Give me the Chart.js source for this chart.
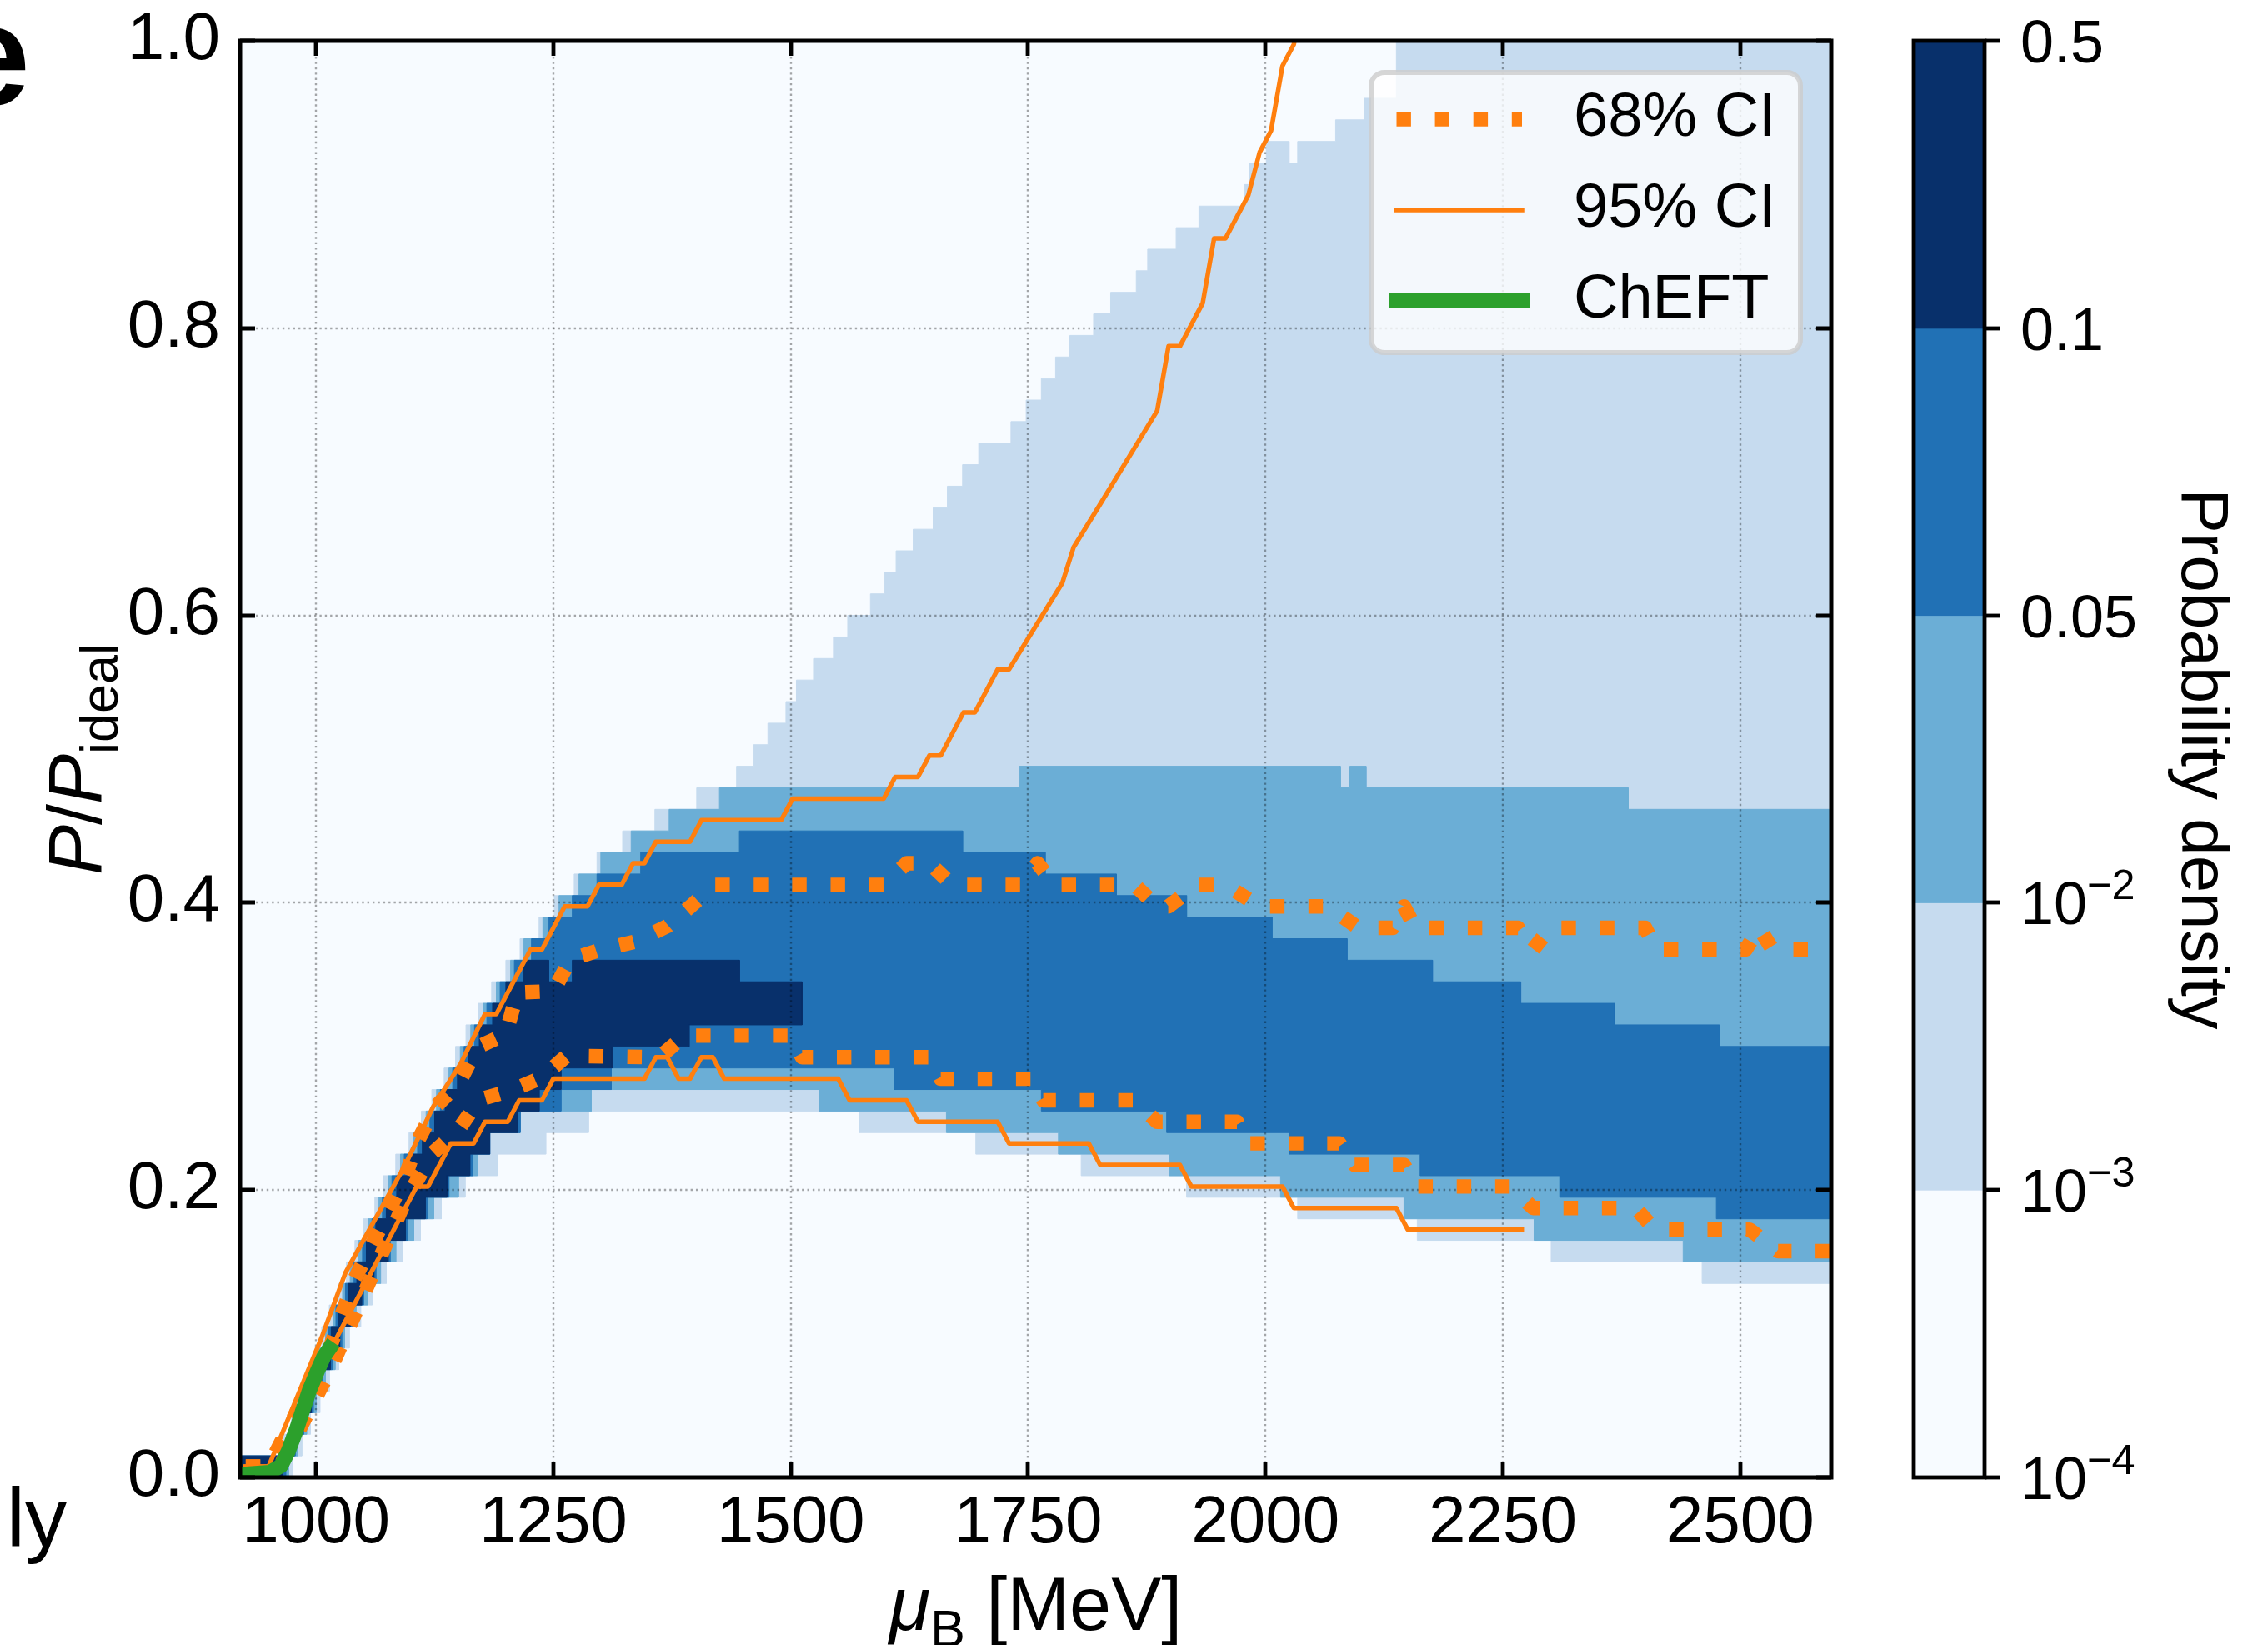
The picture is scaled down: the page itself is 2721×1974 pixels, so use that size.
<!DOCTYPE html>
<html>
<head>
<meta charset="utf-8">
<title>P/P_ideal vs baryon chemical potential</title>
<script src="https://cdn.jsdelivr.net/npm/chart.js@4.4.1/dist/chart.umd.min.js"></script>
<style>
  html, body { margin: 0; padding: 0; background: #ffffff; }
  canvas { display: block; }
</style>
</head>
<body>
<canvas id="chart" width="2721" height="1974"></canvas>
<script>
// ---------- axes ----------
const muRange = [920, 2596];      // mu_B [MeV]
const pRange = [0, 1];            // P / P_ideal
const muTickStep = 250;
const pTickStep = 0.2;

// ---------- colour bar: probability-density levels (bottom -> top) ----------
const densityTicks = ['10^-4', '10^-3', '10^-2', '0.05', '0.1', '0.5'];
const densityColors = ['#f7fbff', '#c6dbef', '#6baed6', '#2171b5', '#08306b'];

// ---------- density regions, step boundaries: [mu_B from, P/P_ideal] ----------
// level 1: density > 1e-3
const level1Top = [[920,0.015],[966,0.03],[974,0.045],[981,0.06],[990,0.075],[1000,0.09],[1006,0.105],[1014,0.12],[1024,0.135],[1032,0.15],[1041,0.165],[1050,0.18],[1062,0.195],[1071,0.21],[1084,0.225],[1098,0.24],[1111,0.255],[1122,0.27],[1135,0.285],[1147,0.3],[1158,0.315],[1171,0.33],[1185,0.345],[1200,0.36],[1215,0.375],[1235,0.39],[1251,0.405],[1272,0.42],[1296,0.435],[1323,0.45],[1357,0.465],[1401,0.48],[1443,0.495],[1461,0.51],[1476,0.525],[1495,0.54],[1506,0.555],[1524,0.57],[1545,0.585],[1560,0.6],[1584,0.615],[1599,0.63],[1611,0.645],[1629,0.66],[1650,0.675],[1665,0.69],[1681,0.705],[1698,0.72],[1732,0.735],[1748,0.75],[1764,0.765],[1779,0.78],[1794,0.795],[1819,0.81],[1837,0.825],[1864,0.84],[1876,0.855],[1906,0.87],[1930,0.885],[1978,0.9],[1983,0.915],[2001,0.93],[2025,0.915],[2034,0.93],[2074,0.945],[2104,0.96],[2138,1.02]];
const level1Bottom = [[920,0],[975,0.015],[985,0.03],[994,0.045],[1004,0.06],[1014,0.075],[1024,0.09],[1035,0.105],[1047,0.12],[1059,0.135],[1074,0.15],[1091,0.165],[1110,0.18],[1132,0.195],[1157,0.21],[1191,0.225],[1242,0.24],[1287,0.255],[1572,0.24],[1695,0.225],[1806,0.21],[1917,0.195],[2034,0.18],[2160,0.165],[2301,0.15],[2460,0.135]];
// level 2: density > 1e-2
const level2Top = [[920,0.015],[969,0.03],[977,0.045],[985,0.06],[994,0.075],[1003,0.09],[1010,0.105],[1018,0.12],[1028,0.135],[1036,0.15],[1045,0.165],[1055,0.18],[1066,0.195],[1076,0.21],[1089,0.225],[1103,0.24],[1116,0.255],[1127,0.27],[1140,0.285],[1152,0.3],[1163,0.315],[1176,0.33],[1190,0.345],[1205,0.36],[1219,0.375],[1239,0.39],[1256,0.405],[1277,0.42],[1300,0.435],[1332,0.45],[1372,0.465],[1425,0.48],[1741,0.495],[2079,0.48],[2089,0.495],[2106,0.48],[2382,0.465]];
const level2Bottom = [[920,0],[971,0.015],[981,0.03],[990,0.045],[1000,0.06],[1010,0.075],[1020,0.09],[1030,0.105],[1042,0.12],[1054,0.135],[1068,0.15],[1084,0.165],[1103,0.18],[1124,0.195],[1150,0.21],[1170,0.225],[1183,0.24],[1215,0.255],[1290,0.27],[1530,0.255],[1664,0.24],[1782,0.225],[1899,0.21],[2016,0.195],[2146,0.18],[2283,0.165],[2440,0.15]];
// level 3: density > 0.05
const level3Top = [[920,0.015],[972,0.03],[980,0.045],[988,0.06],[997,0.075],[1006,0.09],[1013,0.105],[1021,0.12],[1031,0.135],[1040,0.15],[1049,0.165],[1059,0.18],[1070,0.195],[1080,0.21],[1093,0.225],[1107,0.24],[1120,0.255],[1131,0.27],[1144,0.285],[1156,0.3],[1167,0.315],[1180,0.33],[1194,0.345],[1209,0.36],[1227,0.375],[1245,0.39],[1270,0.405],[1296,0.42],[1342,0.435],[1446,0.45],[1681,0.435],[1768,0.42],[1843,0.405],[1917,0.39],[2007,0.375],[2086,0.36],[2176,0.345],[2269,0.33],[2368,0.315],[2478,0.3]];
const level3Bottom = [[920,0],[968,0.015],[978,0.03],[987,0.045],[997,0.06],[1007,0.075],[1017,0.09],[1027,0.105],[1038,0.12],[1050,0.135],[1063,0.15],[1078,0.165],[1096,0.18],[1117,0.195],[1140,0.21],[1165,0.225],[1183,0.24],[1215,0.255],[1258,0.27],[1311,0.285],[1609,0.27],[1764,0.255],[1896,0.24],[2025,0.225],[2163,0.21],[2310,0.195],[2475,0.18]];
// level 4: density > 0.1 (ends at 1512 MeV)
const level4End = 1512;
const level4Top = [[920,0.015],[975,0.03],[983,0.045],[991,0.06],[1000,0.075],[1009,0.09],[1016,0.105],[1024,0.12],[1034,0.135],[1043,0.15],[1053,0.165],[1063,0.18],[1074,0.195],[1085,0.21],[1098,0.225],[1112,0.24],[1125,0.255],[1136,0.27],[1149,0.285],[1161,0.3],[1172,0.315],[1186,0.33],[1200,0.345],[1219,0.36],[1245,0.345],[1270,0.36],[1446,0.345]];
const level4Bottom = [[920,0],[964,0.015],[976,0.03],[985,0.045],[995,0.06],[1005,0.075],[1015,0.09],[1025,0.105],[1036,0.12],[1048,0.135],[1061,0.15],[1076,0.165],[1094,0.18],[1115,0.195],[1138,0.21],[1162,0.225],[1183,0.24],[1212,0.255],[1235,0.27],[1258,0.285],[1312,0.3],[1393,0.315]];

// ---------- credible-interval bounds and ChEFT band: [mu_B, P/P_ideal] ----------
const ci68Upper = [[926,0.0075],[950,0.0075],[1015,0.091],[1028,0.115],[1041,0.1385],[1059,0.162],[1077,0.186],[1094,0.2095],[1107,0.234],[1126,0.258],[1151,0.275],[1170,0.2995],[1200,0.3085],[1212,0.3375],[1250,0.3385],[1268,0.3606],[1301,0.3675],[1337,0.373],[1370,0.3837],[1395,0.3977],[1420,0.4125],[1598,0.4125],[1622,0.4275],[1646,0.4275],[1670,0.4125],[1742,0.4125],[1760,0.4275],[1778,0.4125],[1862,0.4125],[1886,0.3975],[1898,0.3975],[1928,0.4125],[1958,0.4125],[1994,0.3975],[2066,0.3975],[2098,0.3825],[2134,0.3825],[2146,0.3975],[2158,0.3825],[2266,0.3825],[2282,0.3675],[2300,0.3825],[2400,0.3825],[2412,0.3675],[2506,0.3675],[2520,0.3825],[2534,0.3675],[2596,0.3675]];
const ci68Lower = [[926,0.0075],[962,0.0075],[1015,0.075],[1094,0.1925],[1123,0.2258],[1150,0.242],[1172,0.263],[1204,0.269],[1237,0.278],[1264,0.2934],[1362,0.2925],[1388,0.3075],[1500,0.3075],[1512,0.2925],[1646,0.2925],[1658,0.2775],[1754,0.2775],[1766,0.2625],[1862,0.2625],[1886,0.2475],[1970,0.2475],[1982,0.2325],[2078,0.2325],[2094,0.2175],[2146,0.2175],[2158,0.2025],[2258,0.2025],[2282,0.1875],[2390,0.1875],[2410,0.1725],[2510,0.1725],[2540,0.1575],[2596,0.1575]];
const ci95Upper = [[926,0.0075],[950,0.0075],[1006,0.0975],[1031,0.1425],[1094,0.2175],[1123,0.2575],[1152,0.2875],[1178,0.3225],[1190,0.3225],[1226,0.3675],[1238,0.3675],[1262,0.3975],[1286,0.3975],[1298,0.4125],[1322,0.4125],[1334,0.4275],[1346,0.4275],[1358,0.4425],[1394,0.4425],[1406,0.4575],[1490,0.4575],[1502,0.4725],[1598,0.4725],[1610,0.4875],[1634,0.4875],[1646,0.5025],[1658,0.5025],[1682,0.5325],[1694,0.5325],[1718,0.5625],[1730,0.5625],[1758,0.5925],[1786,0.6225],[1798,0.6475],[1826,0.6775],[1886,0.7425],[1898,0.7875],[1910,0.7875],[1934,0.8175],[1946,0.8625],[1958,0.8625],[1982,0.8925],[1994,0.9225],[2006,0.9375],[2018,0.9825],[2030,0.9975],[2042,1.04]];
const ci95Lower = [[926,0.0075],[962,0.0075],[1010,0.0825],[1106,0.2025],[1118,0.2025],[1142,0.2325],[1166,0.2325],[1178,0.2475],[1202,0.2475],[1214,0.2625],[1238,0.2625],[1250,0.2775],[1346,0.2775],[1358,0.2925],[1370,0.2925],[1382,0.2775],[1394,0.2775],[1406,0.2925],[1418,0.2925],[1430,0.2775],[1550,0.2775],[1562,0.2625],[1622,0.2625],[1634,0.2475],[1718,0.2475],[1730,0.2325],[1814,0.2325],[1826,0.2175],[1910,0.2175],[1922,0.2025],[2018,0.2025],[2030,0.1875],[2138,0.1875],[2150,0.1725],[2270,0.1725]];
const chEFT = [[920,0.002],[951,0.0035],[963,0.008],[971,0.0186],[979,0.0326],[986,0.0466],[993,0.0605],[1001,0.0733],[1008,0.0838],[1014,0.0896]];

// ---------- helpers ----------
const ORANGE = '#ff7f0e';
const GREEN = '#2ca02c';
const FONT = '"Liberation Sans", Arial, Helvetica, sans-serif';

function toPoints(pairs) {
  return pairs.map(([x, y]) => ({ x, y }));
}

// closed outline of a region bounded by an upper and a lower step boundary
function regionOutline(top, bottom, xEnd) {
  const pts = [];
  for (let i = 0; i < top.length; i++) {
    const x1 = i + 1 < top.length ? top[i + 1][0] : xEnd;
    pts.push({ x: top[i][0], y: top[i][1] }, { x: x1, y: top[i][1] });
  }
  for (let i = bottom.length - 1; i >= 0; i--) {
    const x1 = i + 1 < bottom.length ? bottom[i + 1][0] : xEnd;
    pts.push({ x: x1, y: bottom[i][1] }, { x: bottom[i][0], y: bottom[i][1] });
  }
  return pts;
}

function region(name, top, bottom, xEnd, color, order) {
  return {
    regionName: name,
    data: regionOutline(top, bottom, xEnd),
    showLine: true,
    fill: 'shape',
    backgroundColor: color,
    borderColor: color,
    borderWidth: 1,
    pointRadius: 0,
    clip: 0,
    order
  };
}

const datasets = [
  region('level1', level1Top, level1Bottom, muRange[1], densityColors[1], 6),
  region('level2', level2Top, level2Bottom, muRange[1], densityColors[2], 5),
  region('level3', level3Top, level3Bottom, muRange[1], densityColors[3], 4),
  region('level4', level4Top, level4Bottom, level4End, densityColors[4], 3),
  { legendText: '68% CI', data: toPoints(ci68Upper), showLine: true, pointRadius: 0, clip: 0,
    borderColor: ORANGE, borderWidth: 17.4, borderDash: [17.4, 28.7], borderCapStyle: 'butt', borderJoinStyle: 'round', order: 2 },
  { data: toPoints(ci68Lower), showLine: true, pointRadius: 0, clip: 0,
    borderColor: ORANGE, borderWidth: 17.4, borderDash: [17.4, 28.7], borderCapStyle: 'butt', borderJoinStyle: 'round', order: 2 },
  { legendText: '95% CI', data: toPoints(ci95Upper), showLine: true, pointRadius: 0, clip: 0,
    borderColor: ORANGE, borderWidth: 5.5, borderCapStyle: 'square', borderJoinStyle: 'round', order: 1 },
  { data: toPoints(ci95Lower), showLine: true, pointRadius: 0, clip: 0,
    borderColor: ORANGE, borderWidth: 5.5, borderCapStyle: 'square', borderJoinStyle: 'round', order: 1 },
  { legendText: 'ChEFT', data: toPoints(chEFT), showLine: true, pointRadius: 0, clip: 0,
    borderColor: GREEN, borderWidth: 18, borderCapStyle: 'square', borderJoinStyle: 'round', order: 0 }
];

// text made of styled runs (italic / subscript / superscript)
function runFont(run, size) {
  const s = run.sub || run.sup ? size * 0.7 : size;
  return (run.italic ? 'italic ' : '') + (run.bold ? 'bold ' : '') + s + 'px ' + FONT;
}
function runsWidth(ctx, runs, size) {
  let w = 0;
  runs.forEach(r => { ctx.font = runFont(r, size); w += ctx.measureText(r.text).width; });
  return w;
}
function drawRuns(ctx, runs, size, x, baseline) {
  runs.forEach(r => {
    ctx.font = runFont(r, size);
    const dy = r.sub ? size * 0.22 : (r.sup ? -size * 0.42 : 0);
    ctx.fillText(r.text, x, baseline + dy);
    x += ctx.measureText(r.text).width;
  });
}
function densityLabelRuns(label) {
  if (label.startsWith('10^')) {
    return [{ text: '10' }, { text: label.slice(3).replace('-', '\u2212'), sup: true }];
  }
  return [{ text: label }];
}

function drawGrid(chart) {
  const { ctx, chartArea: a, scales: { x, y } } = chart;
  ctx.save();
  ctx.strokeStyle = 'rgba(0,0,0,0.34)';
  ctx.lineWidth = 2.4;
  ctx.setLineDash([2.4, 3.96]);
  x.ticks.forEach(t => {
    const px = Math.round(x.getPixelForValue(t.value));
    ctx.beginPath(); ctx.moveTo(px, a.top); ctx.lineTo(px, a.bottom); ctx.stroke();
  });
  y.ticks.forEach(t => {
    const py = Math.round(y.getPixelForValue(t.value));
    ctx.beginPath(); ctx.moveTo(a.left, py); ctx.lineTo(a.right, py); ctx.stroke();
  });
  ctx.restore();
}

const decorations = {
  id: 'decorations',
  beforeDatasetsDraw(chart) {
    const { ctx, chartArea: a } = chart;
    ctx.save();
    ctx.fillStyle = densityColors[0];
    ctx.fillRect(a.left, a.top, a.right - a.left, a.bottom - a.top);
    ctx.restore();
  },
  afterDatasetDraw(chart, args) {
    if (chart.data.datasets[args.index].regionName === 'level4') drawGrid(chart);
  },
  afterDraw(chart) {
    const { ctx, chartArea: a, scales: { x, y } } = chart;
    ctx.save();

    // inward ticks on all four sides
    ctx.strokeStyle = '#000';
    ctx.lineWidth = 4.8;
    const tl = 18;
    x.ticks.forEach(t => {
      const px = Math.round(x.getPixelForValue(t.value));
      ctx.beginPath();
      ctx.moveTo(px, a.bottom); ctx.lineTo(px, a.bottom - tl);
      ctx.moveTo(px, a.top); ctx.lineTo(px, a.top + tl);
      ctx.stroke();
    });
    y.ticks.forEach(t => {
      const py = Math.round(y.getPixelForValue(t.value));
      ctx.beginPath();
      ctx.moveTo(a.left, py); ctx.lineTo(a.left + tl, py);
      ctx.moveTo(a.right, py); ctx.lineTo(a.right - tl, py);
      ctx.stroke();
    });
    // frame
    ctx.lineWidth = 5;
    ctx.strokeRect(a.left, a.top, a.right - a.left, a.bottom - a.top);

    // legend
    const box = { x: 1645, y: 87, w: 515, h: 336, r: 16 };
    ctx.beginPath();
    ctx.roundRect(box.x, box.y, box.w, box.h, box.r);
    ctx.fillStyle = 'rgba(255,255,255,0.8)';
    ctx.fill();
    ctx.lineWidth = 6;
    ctx.strokeStyle = 'rgba(204,204,204,0.8)';
    ctx.stroke();
    const entries = chart.data.datasets.filter(d => d.legendText);
    entries.forEach((d, i) => {
      const cy = box.y + 56 + i * 109;
      ctx.strokeStyle = d.borderColor;
      ctx.lineWidth = d.borderWidth;
      ctx.setLineDash(d.borderDash || []);
      ctx.lineCap = d.borderCapStyle;
      ctx.beginPath(); ctx.moveTo(box.x + 30.5, cy); ctx.lineTo(box.x + 181, cy); ctx.stroke();
      ctx.setLineDash([]);
      ctx.fillStyle = '#000';
      ctx.font = '74px ' + FONT;
      ctx.textAlign = 'left';
      ctx.textBaseline = 'middle';
      ctx.fillText(d.legendText, box.x + 243, cy);
    });
    ctx.lineCap = 'butt';

    // colour bar
    const cb = { left: 2296, right: 2381, top: a.top, bottom: a.bottom };
    const nBands = densityColors.length;
    const bandH = (cb.bottom - cb.top) / nBands;
    densityColors.forEach((c, i) => {
      ctx.fillStyle = c;
      ctx.fillRect(cb.left, cb.bottom - (i + 1) * bandH, cb.right - cb.left, bandH + 0.5);
    });
    ctx.strokeStyle = '#000';
    ctx.lineWidth = 4.8;
    ctx.strokeRect(cb.left, cb.top, cb.right - cb.left, cb.bottom - cb.top);
    ctx.textAlign = 'left';
    ctx.textBaseline = 'alphabetic';
    ctx.fillStyle = '#000';
    densityTicks.forEach((lab, i) => {
      const py = Math.round(cb.bottom - i * bandH);
      ctx.beginPath(); ctx.moveTo(cb.right, py); ctx.lineTo(cb.right + 19, py); ctx.stroke();
      drawRuns(ctx, densityLabelRuns(lab), 72, cb.right + 43, py + 0.358 * 72);
    });
    // colour bar title
    ctx.save();
    ctx.translate(2618, (cb.top + cb.bottom) / 2);
    ctx.rotate(Math.PI / 2);
    ctx.font = '80px ' + FONT;
    ctx.textAlign = 'center';
    ctx.fillText('Probability density', 0, 0);
    ctx.restore();

    // axis titles
    const xTitle = [{ text: '\u03bc', italic: true }, { text: 'B', sub: true }, { text: ' [MeV]' }];
    const xw = runsWidth(ctx, xTitle, 90);
    drawRuns(ctx, xTitle, 90, (a.left + a.right) / 2 - xw / 2, 1956);
    const yTitle = [{ text: 'P', italic: true }, { text: '/' }, { text: 'P', italic: true }, { text: 'ideal', sub: true }];
    const yw = runsWidth(ctx, yTitle, 90);
    ctx.save();
    ctx.translate(121, (a.top + a.bottom) / 2);
    ctx.rotate(-Math.PI / 2);
    drawRuns(ctx, yTitle, 90, -yw / 2, 0);
    ctx.restore();

    // neighbouring panel text at the left border
    ctx.textAlign = 'right';
    ctx.font = 'bold 170px ' + FONT;
    ctx.fillText('e', 36, 125);
    ctx.font = '100px ' + FONT;
    ctx.fillText('ly', 80, 1856);

    ctx.restore();
  }
};

Chart.defaults.font.family = FONT;

new Chart(document.getElementById('chart'), {
  type: 'scatter',
  data: { datasets },
  options: {
    responsive: false,
    devicePixelRatio: 1,
    animation: false,
    events: [],
    layout: { padding: { left: 0, top: 49, right: 524, bottom: 0 } },
    plugins: { legend: { display: false }, tooltip: { enabled: false } },
    scales: {
      x: {
        type: 'linear',
        min: muRange[0], max: muRange[1],
        afterFit: s => { s.height = 201; s.paddingLeft = 0; s.paddingRight = 0; },
        grid: { display: false, drawTicks: false, tickLength: 0 },
        border: { display: false },
        ticks: { stepSize: muTickStep, includeBounds: false, maxRotation: 0, autoSkip: false,
                 color: '#000', font: { size: 80 }, padding: 8,
                 callback: v => String(v) }
      },
      y: {
        type: 'linear',
        min: pRange[0], max: pRange[1],
        afterFit: s => { s.width = 288; s.paddingTop = 0; s.paddingBottom = 0; },
        grid: { display: false, drawTicks: false, tickLength: 0 },
        border: { display: false },
        ticks: { stepSize: pTickStep, color: '#000', font: { size: 80 }, padding: 24,
                 callback: v => v.toFixed(1) }
      }
    }
  },
  plugins: [decorations]
});
</script>
</body>
</html>
